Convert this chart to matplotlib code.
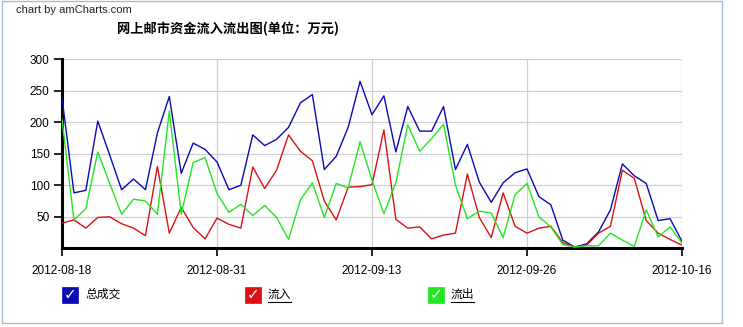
import matplotlib
matplotlib.use("Agg")
import matplotlib.pyplot as plt
from matplotlib.patches import Rectangle
from matplotlib.lines import Line2D
import pandas as pd

# categories (trading dates; national holiday gap)
dates = list(pd.date_range("2012-08-18", "2012-09-30").strftime("%Y-%m-%d")) + \
        list(pd.date_range("2012-10-08", "2012-10-16").strftime("%Y-%m-%d"))

total = [239, 88, 92, 202, 148, 93, 110, 93, 183, 241, 119, 167, 157, 137, 93, 100,
         180, 163, 173, 192, 231, 244, 125, 146, 192, 265, 212, 242, 153, 225, 186, 186,
         225, 125, 165, 105, 73, 104, 120, 126, 82, 69, 13, 2, 7, 26, 61, 134, 115, 103,
         44, 47, 11]
inflow = [40, 45, 32, 49, 50, 39, 32, 20, 130, 24, 65, 33, 15, 48, 38, 32,
          129, 95, 124, 180, 154, 139, 75, 45, 97, 98, 101, 188, 46, 32, 34, 15,
          21, 24, 118, 49, 17, 88, 35, 24, 32, 35, 9, 2, 5, 24, 35, 124, 111, 44,
          24, 14, 5]
outflow = [205, 45, 63, 153, 103, 54, 78, 75, 54, 218, 54, 136, 144, 87, 57, 70,
           52, 68, 49, 14, 77, 104, 49, 103, 96, 169, 108, 55, 104, 196, 154, 174,
           197, 100, 47, 59, 56, 17, 85, 103, 50, 34, 6, 2, 4, 4, 24, 13, 3, 61,
           18, 34, 8]

series_names = ["总成交", "流入", "流出"]
colors = ["#0a0ab4", "#dd1111", "#22e622"]
tick_labels = ["2012-08-18", "2012-08-31", "2012-09-13", "2012-09-26", "2012-10-16"]
yticks = [50, 100, 150, 200, 250, 300]

plt.rcParams["font.family"] = ["Liberation Sans", "Noto Sans CJK SC", "DejaVu Sans"]

W, H = 743, 327
fig = plt.figure(figsize=(W / 100, H / 100), dpi=100)

# outer frame
fig.add_artist(Rectangle((2 / W, 1 - 323 / H), (722 - 2) / W, (323 - 1) / H,
                         transform=fig.transFigure, fill=False,
                         edgecolor="#a9bccf", linewidth=1))

ax = fig.add_axes([62 / W, 1 - 248.3 / H, (682 - 62) / W, (248.3 - 59.3) / H])
x = list(range(len(dates)))
for vals, c in zip([total, inflow, outflow], colors):
    ax.plot(x, vals, color=c, linewidth=1.0, zorder=3)

ax.set_xlim(0, len(dates) - 1)
ax.set_ylim(0, 300)
tick_pos = [dates.index(t) for t in tick_labels]
ax.set_xticks(tick_pos)
ax.set_xticklabels(tick_labels, fontsize=8.5)
ax.set_yticks(yticks)
ax.set_yticklabels([str(v) for v in yticks], fontsize=8.5)
ax.grid(True, color="#d0d0d0", linewidth=0.9, zorder=0)
ax.tick_params(axis="x", direction="out", length=6, width=1.2, pad=6, colors="black")
ax.tick_params(axis="y", direction="out", length=6, width=1.2, pad=3, colors="black")
for s in ["top", "right"]:
    ax.spines[s].set_visible(False)
ax.spines["left"].set_linewidth(2.2)
ax.spines["bottom"].set_linewidth(2.2)
# right vertical grid line
ax.axvline(len(dates) - 1, color="#d0d0d0", linewidth=0.9, zorder=0)

fig.text(16 / W, 1 - 10 / H, "chart by amCharts.com", fontsize=8, color="#222222",
         va="center", ha="left")
fig.text(228 / W, 1 - 29 / H, "网上邮市资金流入流出图(单位：万元)", fontsize=9.5,
         fontweight="bold", va="center", ha="center",
         family=["Noto Sans CJK SC", "DejaVu Sans"])

# legend
leg_x = [62, 245, 428]
for lx, name, c, i in zip(leg_x, series_names, colors, range(3)):
    by = 294.5
    fig.add_artist(Rectangle((lx / W, 1 - (by + 8) / H), 16 / W, 16 / H,
                             transform=fig.transFigure, facecolor=c,
                             edgecolor=c, linewidth=0.5))
    fig.text((lx + 8) / W, 1 - (by + 0.5) / H, "✓", color="white", fontsize=11,
             fontweight="bold", ha="center", va="center", family=["DejaVu Sans"])
    fig.text((lx + 23) / W, 1 - by / H, name, fontsize=8.5, va="center", ha="left",
             family=["Noto Sans CJK SC", "DejaVu Sans"])
    if i > 0:
        fig.add_artist(Line2D([(lx + 23) / W, (lx + 23 + 2 * 11.5) / W],
                              [1 - (by + 7.5) / H, 1 - (by + 7.5) / H],
                              transform=fig.transFigure, color="black", linewidth=0.8))

fig.savefig("out.png", dpi=100)
